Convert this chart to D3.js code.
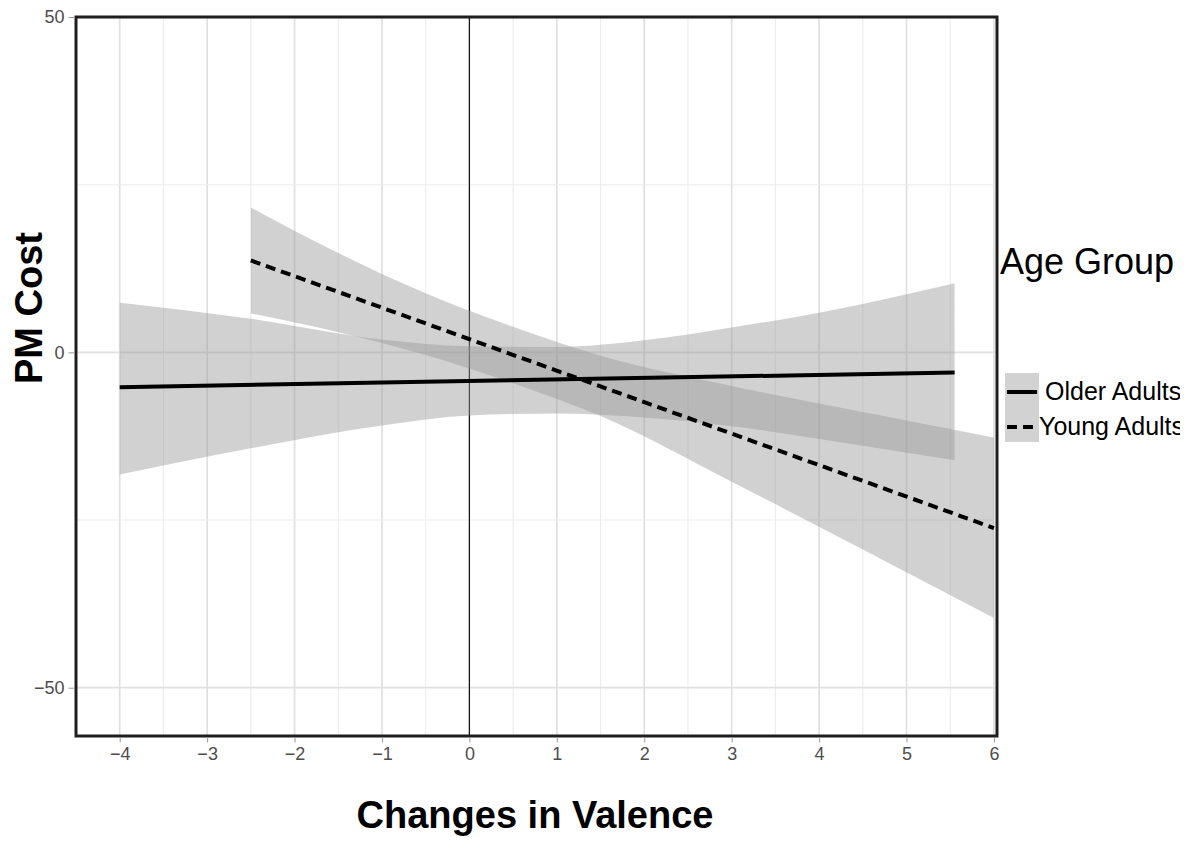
<!DOCTYPE html>
<html>
<head>
<meta charset="utf-8">
<script src="https://cdn.jsdelivr.net/npm/d3@7"></script>
<style>
  body { margin: 0; background: #fff; }
  text { font-family: "Liberation Sans", Arial, sans-serif; }
</style>
</head>
<body>
<div id="vis"></div>
<script>
// values
const groups = ["Older Adults", "Young Adults"];

const olderX     = [-4, -2.5, -1, 0, 1, 2, 3, 4, 5.55];
const olderFit   = [-5.2, -4.85, -4.5, -4.3, -4.1, -3.9, -3.6, -3.4, -3.0];
const olderLow   = [-18.2, -14.3, -10.9, -9.4, -9.1, -9.7, -11.0, -12.9, -16.1];
const olderHigh  = [7.4, 5.0, 1.9, 0.9, 0.8, 1.8, 3.7, 5.9, 10.3];

const youngX     = [-2.5, -1.5, -0.5, 0.5, 1.5, 3, 4.5, 6];
const youngFit   = [13.7, 9.0, 4.3, -0.35, -5.0, -12.1, -19.1, -26.2];
const youngLow   = [5.8, 3.0, -0.4, -4.6, -9.5, -19.3, -29.4, -39.6];
const youngHigh  = [21.6, 14.8, 8.8, 3.8, -0.5, -5.0, -8.9, -12.7];

const xTicks = [-4, -3, -2, -1, 0, 1, 2, 3, 4, 5, 6];
const yTicks = [-50, 0, 50];
const yGrid = [-50, -25, 0, 25, 50];

const W = 1191, H = 857;
const plot = {left: 76, right: 997, top: 17, bottom: 736};

const svg = d3.select("#vis").append("svg")
    .attr("width", W)
    .attr("height", H);

const x = d3.scaleLinear().domain([-4.5, 6.035]).range([plot.left, plot.right]);
const y = d3.scaleLinear().domain([-57.2, 50]).range([plot.bottom, plot.top]);

svg.append("clipPath").attr("id", "plotclip")
  .append("rect")
    .attr("x", plot.left).attr("y", plot.top)
    .attr("width", plot.right - plot.left).attr("height", plot.bottom - plot.top);

svg.append("clipPath").attr("id", "pageclip")
  .append("rect").attr("x", 0).attr("y", 0).attr("width", 1180).attr("height", H);

// grid
const grid = svg.append("g");
grid.selectAll(".vg")
  .data(d3.range(-4.5, 6.01, 0.5))
  .join("line")
    .attr("x1", d => x(d)).attr("x2", d => x(d))
    .attr("y1", plot.top).attr("y2", plot.bottom)
    .attr("stroke", d => Number.isInteger(d) ? "#e0e0e0" : "#ececec")
    .attr("stroke-width", d => Number.isInteger(d) ? 1.7 : 1.1);
grid.selectAll(".hg")
  .data(yGrid)
  .join("line")
    .attr("x1", plot.left).attr("x2", plot.right)
    .attr("y1", d => y(d)).attr("y2", d => y(d))
    .attr("stroke", d => d % 50 === 0 ? "#e0e0e0" : "#ececec")
    .attr("stroke-width", d => d % 50 === 0 ? 1.7 : 1.1);

// vertical reference line at 0
svg.append("line")
    .attr("x1", x(0)).attr("x2", x(0))
    .attr("y1", plot.top).attr("y2", plot.bottom)
    .attr("stroke", "#111").attr("stroke-width", 1.2);

const series = [
  {name: groups[0], xs: olderX, fit: olderFit, lo: olderLow, hi: olderHigh, dash: null},
  {name: groups[1], xs: youngX, fit: youngFit, lo: youngLow, hi: youngHigh, dash: "10,6"}
];

const g = svg.append("g").attr("clip-path", "url(#plotclip)");

const area = d3.area()
    .x(d => x(d.x)).y0(d => y(d.lo)).y1(d => y(d.hi))
    .curve(d3.curveMonotoneX);
const line = d3.line()
    .x(d => x(d.x)).y(d => y(d.fit));

series.forEach(s => {
  s.pts = s.xs.map((v, i) => ({x: v, fit: s.fit[i], lo: s.lo[i], hi: s.hi[i]}));
});

g.selectAll(".band")
  .data(series)
  .join("path")
    .attr("d", s => area(s.pts))
    .attr("fill", "#999")
    .attr("fill-opacity", 0.45);

g.selectAll(".fit")
  .data(series)
  .join("path")
    .attr("d", s => line([s.pts[0], s.pts[s.pts.length - 1]]))
    .attr("fill", "none")
    .attr("stroke", "#000")
    .attr("stroke-width", 4)
    .attr("stroke-dasharray", s => s.dash);

// border
svg.append("rect")
    .attr("x", plot.left).attr("y", plot.top)
    .attr("width", plot.right - plot.left).attr("height", plot.bottom - plot.top)
    .attr("fill", "none").attr("stroke", "#1e1e1e").attr("stroke-width", 3);

// axes
const xAxis = svg.append("g")
    .attr("transform", `translate(0,${plot.bottom + 1.5})`)
    .call(d3.axisBottom(x).tickValues(xTicks).tickSize(5).tickPadding(5));
const yAxis = svg.append("g")
    .attr("transform", `translate(${plot.left - 1.5},0)`)
    .call(d3.axisLeft(y).tickValues(yTicks).tickSize(6).tickPadding(4));

[xAxis, yAxis].forEach(a => {
  a.select(".domain").remove();
  a.selectAll(".tick line").attr("stroke", "#999");
  a.selectAll(".tick text")
    .attr("fill", "#4d4d4d")
    .attr("font-size", 18)
    .attr("font-family", "'Liberation Sans', Arial, sans-serif");
});

// axis titles
svg.append("text")
    .attr("x", 535).attr("y", 828)
    .attr("text-anchor", "middle")
    .style("font-size", "38px").style("font-weight", "bold")
    .text("Changes in Valence");

svg.append("text")
    .attr("transform", "translate(42,308) rotate(-90)")
    .attr("text-anchor", "middle")
    .style("font-size", "38px").style("font-weight", "bold")
    .text("PM Cost");

// legend
const lg = svg.append("g").attr("clip-path", "url(#pageclip)");
lg.append("text")
    .attr("x", 1000).attr("y", 274)
    .style("font-size", "36px")
    .text("Age Group");

lg.append("rect")
    .attr("x", 1005).attr("y", 373).attr("width", 34).attr("height", 69)
    .attr("fill", "#d2d2d2");

const keyY = [392, 427];
lg.selectAll(".key")
  .data(series)
  .join("line")
    .attr("x1", 1007).attr("x2", 1037)
    .attr("y1", (d, i) => keyY[i]).attr("y2", (d, i) => keyY[i])
    .attr("stroke", "#000").attr("stroke-width", 4)
    .attr("stroke-dasharray", s => s.dash);

lg.selectAll(".lab")
  .data(series)
  .join("text")
    .attr("x", (d, i) => i === 0 ? 1045 : 1039)
    .attr("y", (d, i) => keyY[i] + 8)
    .style("font-size", "25px")
    .text(s => s.name);
</script>
</body>
</html>
